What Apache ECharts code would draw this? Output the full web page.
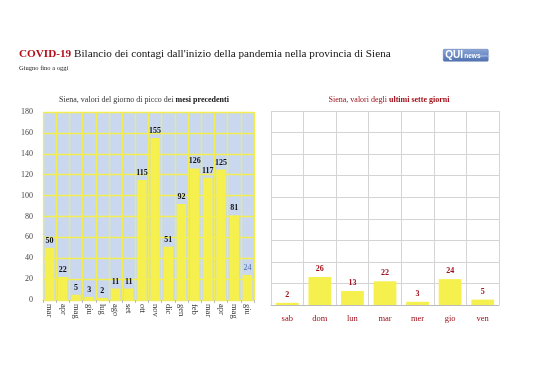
<!DOCTYPE html>
<html><head><meta charset="utf-8">
<script src="https://cdn.jsdelivr.net/npm/echarts@6/dist/echarts.min.js"></script>
<style>html,body{margin:0;padding:0;background:#fff}#c{width:538px;height:380px}</style>
</head><body><div id="c"></div>
<script>
const monthCats = ['mar','apr','mag','giu','lug','ago','set','ott','nov','dic','gen','feb','mar','apr','mag','giu'];
const monthVals = [50,22,5,3,2,11,11,115,155,51,92,126,117,125,81,24];
const dayCats = ['sab','dom','lun','mar','mer','gio','ven'];
const dayVals = [2,26,13,22,3,24,5];
const yTicks = [0,20,40,60,80,100,120,140,160,180];

const serif = '"Liberation Serif","DejaVu Serif",serif';
const chart = echarts.init(document.getElementById('c'), null, {renderer:'canvas'});
const n = monthVals.length;
chart.setOption({
  animation:false,
  backgroundColor:'#fff',
  title:[
    {text:'{r|COVID-19} Bilancio dei contagi dall\'inizio della pandemia nella provincia di Siena',
     left:14, top:44,
     textStyle:{fontFamily:serif,fontSize:11.2,fontWeight:'normal',color:'#111',
       rich:{r:{fontFamily:serif,fontSize:11.2,fontWeight:'bold',color:'#b0101a'}}}},
    {text:'Giugno fino a oggi', left:14, top:60, textStyle:{fontFamily:serif,fontSize:6.5,fontWeight:'normal',color:'#222'}},
    {text:'Siena, valori del giorno di picco dei {b|mesi precedenti}', left:139, top:91, textAlign:'center',
     textStyle:{fontFamily:serif,fontSize:8,fontWeight:'normal',color:'#333',
       rich:{b:{fontFamily:serif,fontSize:8,fontWeight:'bold',color:'#111'}}}},
    {text:'Siena, valori degli {b|ultimi sette giorni}', left:384, top:91, textAlign:'center',
     textStyle:{fontFamily:serif,fontSize:8,fontWeight:'normal',color:'#a0101a',
       rich:{b:{fontFamily:serif,fontSize:8,fontWeight:'bold',color:'#a0101a'}}}}
  ],
  graphic:[
    {type:'group', left:443, top:49, children:[
      {type:'rect', shape:{x:0,y:0,width:45,height:12,r:1},
       style:{stroke:'#5a74a8', lineWidth:0.5, fill:{type:'linear',x:0,y:0,x2:0,y2:1,colorStops:[{offset:0,color:'#8aa6d8'},{offset:1,color:'#4f70b0'}]}}},
      {type:'text', x:2, y:1, style:{text:'QUI', fill:'#fff', font:'bold 10px "Liberation Sans",sans-serif'}},
      {type:'text', x:21, y:3.5, style:{text:'news', fill:'#fff', font:'bold 6.5px "Liberation Sans",sans-serif'}},
      {type:'text', x:37, y:4.5, style:{text:'siena', fill:'#c9d6f0', font:'4px "Liberation Sans",sans-serif'}}
    ]}
  ],
  grid:[
    {left:43, top:112, width:211, height:188, show:true, backgroundColor:'#c9d7ef', borderWidth:0},
    {left:271, top:111, width:228, height:194, show:false}
  ],
  xAxis:[
    {type:'category', gridIndex:0, data:monthCats,
     axisLine:{show:true,lineStyle:{color:'#f0ec6a'}}, axisTick:{show:true,alignWithLabel:false,length:3,lineStyle:{color:'#bbb'}},
     splitLine:{show:true,interval:0,lineStyle:{color:'#f2ee52',width:1.3}},
     axisLabel:{rotate:-90, interval:0, margin:4, fontFamily:serif, fontSize:8.5, color:'#333'}},
    {type:'category', gridIndex:1, data:dayCats,
     axisLine:{show:true,lineStyle:{color:'#bbb'}}, axisTick:{show:false},
     splitLine:{show:true,interval:0,lineStyle:{color:'#d4d4d4'}},
     axisLabel:{interval:0, margin:9, fontFamily:serif, fontSize:8.5, color:'#a0101a'}}
  ],
  yAxis:[
    {type:'value', gridIndex:0, min:yTicks[0], max:yTicks[yTicks.length-1], interval:20,
     axisLine:{show:false}, axisTick:{show:false},
     splitLine:{show:true,lineStyle:{color:'#f2ee52',width:1.3}},
     axisLabel:{fontFamily:serif, fontSize:8, color:'#444', margin:10}},
    {type:'value', gridIndex:1, min:yTicks[0], max:yTicks[yTicks.length-1], interval:20,
     axisLine:{show:false}, axisTick:{show:false},
     splitLine:{show:true,lineStyle:{color:'#d4d4d4',width:1}},
     axisLabel:{show:false}}
  ],
  series:[
    {type:'bar', xAxisIndex:0, yAxisIndex:0, barCategoryGap:'28%',
     data: monthVals.map((v,i)=>({value:v, label: i===n-1 ? {fontWeight:'normal', color:'#4a6aa8'} : undefined})),
     itemStyle:{color:'#f5f04e'},
     label:{show:true, position:'top', distance:3, fontFamily:serif, fontSize:8, fontWeight:'bold', color:'#111'}},
    {type:'bar', xAxisIndex:1, yAxisIndex:1, barCategoryGap:'30%',
     data: dayVals, itemStyle:{color:'#f5f04e'},
     label:{show:true, position:'top', distance:4, fontFamily:serif, fontSize:8, fontWeight:'bold', color:'#a0101a'}}
  ]
});
</script></body></html>
